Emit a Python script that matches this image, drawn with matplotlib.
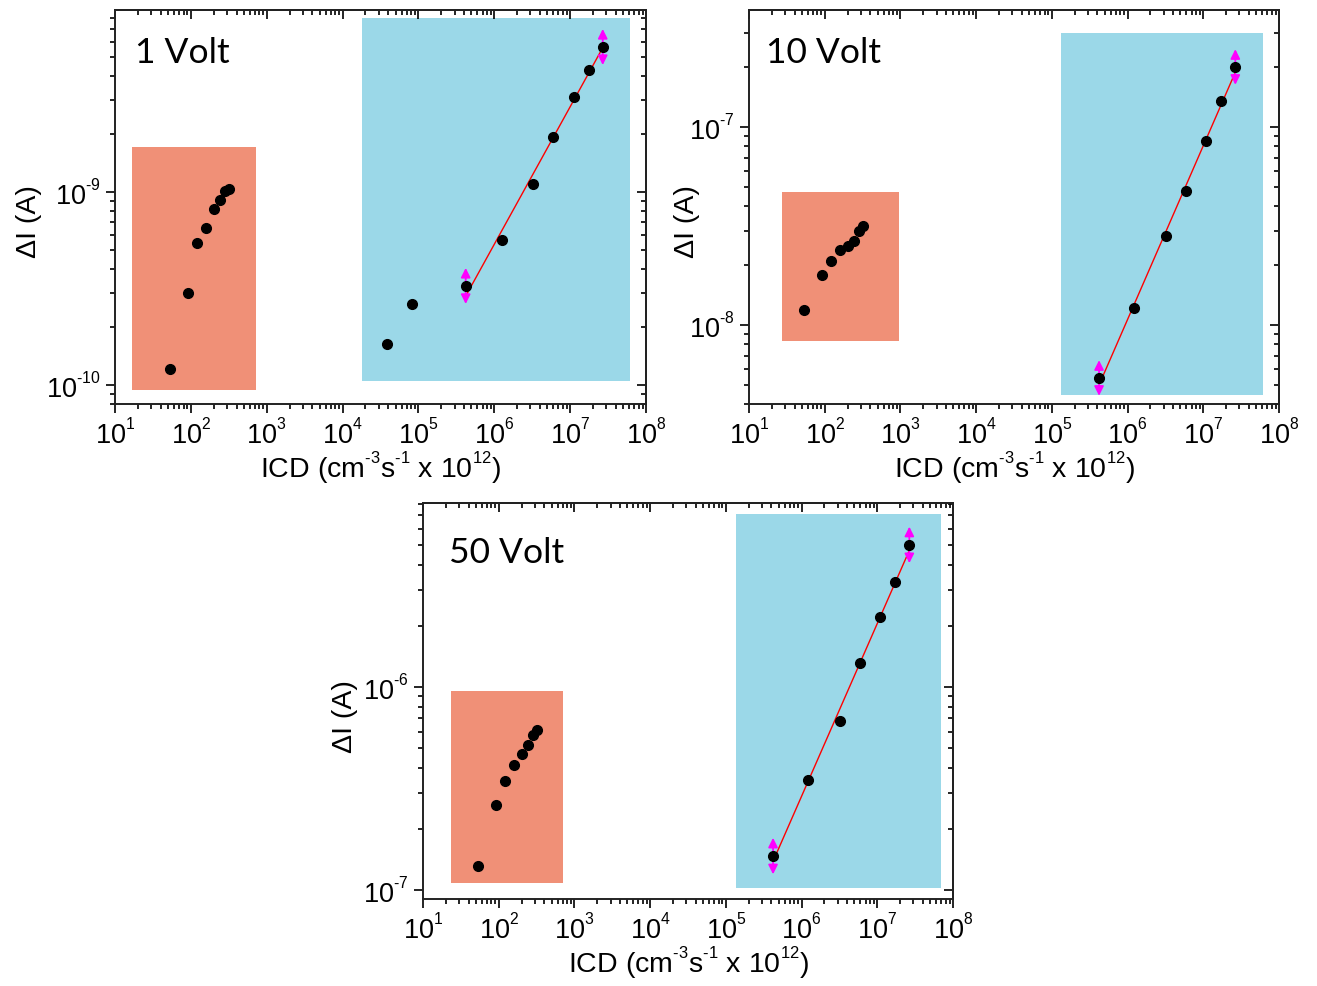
import numpy as np
import matplotlib
matplotlib.use("Agg")
import matplotlib.pyplot as plt
from matplotlib.patches import Rectangle
from matplotlib.ticker import LogLocator, FixedLocator, FixedFormatter, NullFormatter

try:  # smaller, higher superscripts like the original (Origin-style)
    import matplotlib._mathtext as _mt
    _mt.SHRINK_FACTOR = 0.58
    _mt.FontConstantsBase.sup1 = 0.95
except Exception:
    pass

plt.rcParams['font.family'] = ['Liberation Sans', 'DejaVu Sans']
plt.rcParams['mathtext.fontset'] = 'custom'
plt.rcParams['mathtext.rm'] = 'Liberation Sans'
plt.rcParams['mathtext.it'] = 'Liberation Sans'
plt.rcParams['mathtext.bf'] = 'Liberation Sans'

# ---------------- data ----------------
titles = ["1 Volt", "10 Volt", "50 Volt"]

icd_low = [53, 92, 120, 160, 200, 240, 285, 320]
icd_high_1v = [3.84e4, 8.2e4, 4.2e5, 1.26e6, 3.2e6, 5.9e6, 1.11e7, 1.76e7, 2.69e7]
icd_high = [4.2e5, 1.22e6, 3.2e6, 5.9e6, 1.1e7, 1.72e7, 2.65e7]

dI_low_1v = [1.21e-10, 3.0e-10, 5.44e-10, 6.5e-10, 8.2e-10, 9.1e-10, 1.01e-9, 1.04e-9]
dI_high_1v = [1.63e-10, 2.63e-10, 3.26e-10, 5.64e-10, 1.10e-9, 1.93e-9, 3.1e-9, 4.29e-9, 5.64e-9]

dI_low_10v = [1.19e-8, 1.79e-8, 2.1e-8, 2.39e-8, 2.5e-8, 2.65e-8, 2.98e-8, 3.16e-8]
dI_high_10v = [5.4e-9, 1.22e-8, 2.81e-8, 4.75e-8, 8.5e-8, 1.35e-7, 2.01e-7]

dI_low_50v = [1.31e-7, 2.62e-7, 3.44e-7, 4.13e-7, 4.68e-7, 5.18e-7, 5.8e-7, 6.14e-7]
dI_high_50v = [1.47e-7, 3.48e-7, 6.8e-7, 1.31e-6, 2.21e-6, 3.29e-6, 5.01e-6]

# log-symmetric error factor on first and last fitted points
err_factor = [1.24, 1.23, 1.23]

# ---------------- layout ----------------
W, H = 1317, 986
fig = plt.figure(figsize=(W / 100, H / 100), dpi=100)


def px_axes(left, right, top, bottom):
    return fig.add_axes([left / W, 1 - bottom / H, (right - left) / W, (bottom - top) / H])


def sup(base, exp):
    e = str(exp).replace('-', r'\text{-}')
    return r'$\mathregular{%s^{%s}}$' % (base, e)


orange = '#F09077'
blue = '#9BD8E8'

panels = [
    dict(box=(115, 646, 10, 404), ylim=(7.97e-11, 8.77e-9),
         yt=[1e-10, 1e-9], ytl=[sup(10, -10), sup(10, -9)],
         xl=icd_low, yl=dI_low_1v, xh=icd_high_1v, yh=dI_high_1v, fit_start=2,
         orect=(16.7, 726, 9.4e-11, 1.71e-9), brect=(1.83e4, 6.15e7, 1.05e-10, 7.98e-9),
         tpos=(0.038, 0.865), ylab=(-0.137, 0.462)),
    dict(box=(749, 1279, 10, 404), ylim=(3.99e-9, 3.9e-7),
         yt=[1e-8, 1e-7], ytl=[sup(10, -8), sup(10, -7)],
         xl=icd_low, yl=dI_low_10v, xh=icd_high, yh=dI_high_10v, fit_start=0,
         orect=(27, 962, 8.3e-9, 4.7e-8), brect=(1.33e5, 6.17e7, 4.43e-9, 2.99e-7),
         tpos=(0.032, 0.865), ylab=(-0.092, 0.462)),
    dict(box=(423, 953, 503, 899), ylim=(9.03e-8, 8.06e-6),
         yt=[1e-7, 1e-6], ytl=[sup(10, -7), sup(10, -6)],
         xl=icd_low, yl=dI_low_50v, xh=icd_high, yh=dI_high_50v, fit_start=0,
         orect=(23.4, 701, 1.08e-7, 9.55e-7), brect=(1.38e5, 6.95e7, 1.02e-7, 7.1e-6),
         tpos=(0.049, 0.848), ylab=(-0.123, 0.46)),
]

xt = [10.0 ** k for k in range(1, 9)]
xtl = [sup(10, k) for k in range(1, 9)]

for i, p in enumerate(panels):
    ax = px_axes(*p['box'])
    ax.set_xscale('log')
    ax.set_yscale('log')
    ax.set_xlim(10, 1e8)
    ax.set_ylim(*p['ylim'])

    # shaded regions
    x0, x1, y0, y1 = p['orect']
    ax.add_patch(Rectangle((x0, y0), x1 - x0, y1 - y0, facecolor=orange, edgecolor='none', zorder=0))
    x0, x1, y0, y1 = p['brect']
    ax.add_patch(Rectangle((x0, y0), x1 - x0, y1 - y0, facecolor=blue, edgecolor='none', zorder=0))

    # fit (power law in log-log space)
    xh = np.array(p['xh'])
    yh = np.array(p['yh'])
    fs = p['fit_start']
    xf, yf = xh[fs:], yh[fs:]
    coef = np.polyfit(np.log10(xf), np.log10(yf), 1)
    xx = np.logspace(np.log10(xf[0]), np.log10(xf[-1]), 50)
    ax.plot(xx, 10 ** np.polyval(coef, np.log10(xx)), color='#FF0000', lw=1.0, zorder=3)

    # error arrows on first and last fitted points
    f = err_factor[i]
    for xe, ye in [(xf[0], yf[0]), (xf[-1], yf[-1])]:
        for yend in (ye * f, ye / f):
            ax.annotate('', xy=(xe, yend), xytext=(xe, ye),
                        arrowprops=dict(arrowstyle='-|>', color='#FF00FF', lw=1.3,
                                        mutation_scale=14, shrinkA=0, shrinkB=0),
                        zorder=4)

    ax.plot(p['xl'], p['yl'], 'o', color='black', ms=7, zorder=5)
    ax.plot(xh, yh, 'o', color='black', ms=7, zorder=5)

    ax.text(p['tpos'][0], p['tpos'][1], titles[i], transform=ax.transAxes,
            fontsize=25.5, family=['Lato', 'DejaVu Sans'], va='baseline', ha='left')

    # ticks
    ax.xaxis.set_major_locator(FixedLocator(xt))
    ax.xaxis.set_major_formatter(FixedFormatter(xtl))
    ax.xaxis.set_minor_locator(LogLocator(base=10, subs=np.arange(2, 10), numticks=20))
    ax.xaxis.set_minor_formatter(NullFormatter())
    ax.yaxis.set_major_locator(FixedLocator(p['yt']))
    ax.yaxis.set_major_formatter(FixedFormatter(p['ytl']))
    ax.yaxis.set_minor_locator(LogLocator(base=10, subs=np.arange(2, 10), numticks=20))
    ax.yaxis.set_minor_formatter(NullFormatter())

    ax.tick_params(which='both', direction='out', top=False, right=False, width=1.2)
    ax.tick_params(which='major', length=6.5, labelsize=19.5, pad=4)
    ax.tick_params(which='minor', length=3.5)

    # mirrored inward ticks on top / right
    axt = ax.secondary_xaxis('top')
    axt.xaxis.set_major_locator(FixedLocator(xt))
    axt.xaxis.set_minor_locator(LogLocator(base=10, subs=np.arange(2, 10), numticks=20))
    axt.tick_params(which='both', direction='in', labeltop=False, width=1.2)
    axt.tick_params(which='major', length=6.5)
    axt.tick_params(which='minor', length=3.5)
    axt.xaxis.set_major_formatter(NullFormatter())
    axt.xaxis.set_minor_formatter(NullFormatter())
    axr = ax.secondary_yaxis('right')
    axr.yaxis.set_major_locator(FixedLocator(p['yt']))
    axr.yaxis.set_minor_locator(LogLocator(base=10, subs=np.arange(2, 10), numticks=20))
    axr.tick_params(which='both', direction='in', labelright=False, width=1.2)
    axr.tick_params(which='major', length=6.5)
    axr.tick_params(which='minor', length=3.5)
    axr.yaxis.set_major_formatter(NullFormatter())
    axr.yaxis.set_minor_formatter(NullFormatter())
    for s in list(axt.spines.values()) + list(axr.spines.values()):
        s.set_linewidth(1.4)
        s.set_color('#222222')

    for s in ax.spines.values():
        s.set_linewidth(1.4)
        s.set_color('#222222')

    ax.set_xlabel(r'ICD (cm$^{\mathregular{\text{-}3}}$s$^{\mathregular{\text{-}1}}$ x 10$^{\mathregular{12}}$)',
                  fontsize=20.5, labelpad=0)
    ax.set_ylabel('\u0394I (A)', fontsize=20.5)
    ax.yaxis.set_label_coords(*p['ylab'])

fig.savefig('out.png', dpi=100)
